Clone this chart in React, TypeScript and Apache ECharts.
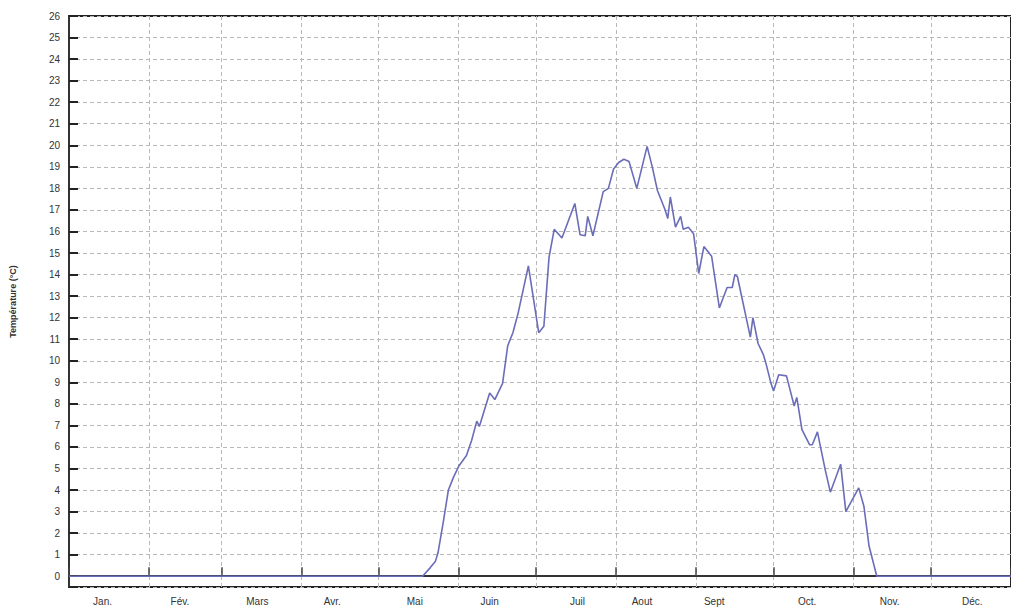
import React, { useEffect, useRef } from "react";
import * as echarts from "echarts";

const months = ["Jan.", "Fév.", "Mars", "Avr.", "Mai", "Juin", "Juil", "Aout", "Sept", "Oct.", "Nov.", "Déc."];
const monthStartDays = [0, 31, 59, 90, 120, 151, 181, 212, 243, 273, 304, 334, 365];
const monthLabelDays = [13, 43, 73, 102, 134, 163, 197, 222, 250, 286, 318, 350];

const dayOfYear = [
  0, 137, 140, 142, 143, 145, 147, 149, 151, 154, 156, 158, 159, 163, 165, 168, 170, 172, 174, 178,
  182, 184, 186, 188, 191, 196, 198, 200, 201, 203, 207, 209, 211, 213, 215, 217, 220, 224, 226, 228,
  231, 232, 233, 235, 237, 238, 240, 242, 244, 246, 249, 252, 255, 257, 258, 259, 264, 265, 267, 269,
  270, 272, 273, 275, 278, 281, 282, 284, 287, 288, 290, 293, 295, 299, 301, 306, 308, 310, 313, 365,
];
const temperature = [
  0, 0, 0.4, 0.7, 1.1, 2.5, 4.0, 4.6, 5.1, 5.6, 6.3, 7.2, 6.95, 8.5, 8.2, 8.95, 10.7, 11.3, 12.2, 14.4,
  11.3, 11.6, 14.8, 16.1, 15.7, 17.3, 15.85, 15.8, 16.7, 15.8, 17.85, 18.0, 18.9, 19.2, 19.35, 19.25, 18.0, 19.95, 19.0, 17.9,
  17.0, 16.6, 17.6, 16.2, 16.7, 16.1, 16.2, 15.9, 14.05, 15.3, 14.85, 12.45, 13.4, 13.4, 14.0, 13.9, 11.1, 12.0, 10.8, 10.3,
  9.9, 8.95, 8.6, 9.35, 9.3, 7.9, 8.3, 6.8, 6.1, 6.1, 6.7, 4.95, 3.9, 5.2, 3.0, 4.1, 3.25, 1.4, 0, 0,
];

const days = Array.from({ length: 366 }, (_, i) => String(i));

export default function App() {
  const ref = useRef<HTMLDivElement>(null);
  useEffect(() => {
    if (!ref.current) return;
    const chart = echarts.init(ref.current, null, { renderer: "svg" });
    const gridLine = { show: true, lineStyle: { color: "#b8b8b8", width: 1, type: [4, 3] as any } };
    chart.setOption({
      animation: false,
      backgroundColor: "#ffffff",
      grid: { left: 67, right: -9, top: 16, bottom: 20, show: true, borderColor: "#222", borderWidth: 2, backgroundColor: "transparent" },
      xAxis: {
        type: "category",
        data: days,
        boundaryGap: false,
        axisLine: { show: true, lineStyle: { color: "#333", width: 2 } },
        axisTick: {
          show: true,
          inside: true,
          length: 9,
          interval: (i: number) => monthStartDays.includes(i),
          lineStyle: { color: "#444", width: 1.5 },
        },
        splitLine: { ...gridLine, interval: (i: number) => monthStartDays.includes(i) && i !== 0 },
        axisLabel: {
          interval: (i: number) => monthLabelDays.includes(i),
          formatter: (_v: string, i: number) => {
            const k = monthLabelDays.indexOf(i);
            return k >= 0 ? months[k] : "";
          },
          color: "#333",
          fontSize: 10,
          fontFamily: "Liberation Sans, Arial, sans-serif",
          margin: 9,
        },
      },
      yAxis: {
        type: "value",
        min: -0.5,
        max: 26,
        splitNumber: 27,
        name: "Température (°C)",
        nameLocation: "middle",
        nameGap: 52,
        nameTextStyle: { color: "#333", fontSize: 9, fontWeight: "bold", fontFamily: "Liberation Sans, Arial, sans-serif" },
        axisLine: { show: true, lineStyle: { color: "#333", width: 2 } },
        axisTick: { show: true, inside: true, length: 9, lineStyle: { color: "#222", width: 2 } },
        splitLine: gridLine,
        axisLabel: {
          formatter: (v: number) => (Number.isInteger(v) ? String(v) : ""),
          color: "#333",
          fontSize: 10,
          fontFamily: "Liberation Sans, Arial, sans-serif",
          margin: 9,
        },
      },
      series: [
        {
          type: "line",
          data: dayOfYear.map((d, i) => [d, temperature[i]]),
          showSymbol: false,
          symbol: "none",
          lineStyle: { color: "#6a6db8", width: 1.6 },
          silent: true,
        },
      ],
    });
    return () => chart.dispose();
  }, []);
  return <div ref={ref} style={{ position: "fixed", left: 0, top: 0, width: 1011, height: 607, background: "#fff" }} />;
}
